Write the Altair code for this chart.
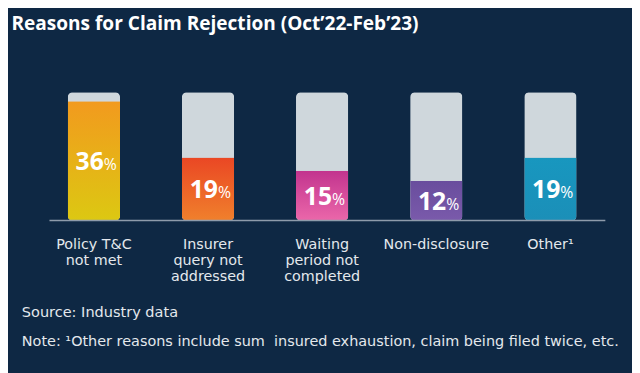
import altair as alt
import pandas as pd

# ---- data ----
categories = ["Policy T&C\nnot met", "Insurer\nquery not\naddressed", "Waiting\nperiod not\ncompleted",
              "Non-disclosure", "Other¹"]
values = [36, 19, 15, 12, 19]
top_colors = ["#f29a1e", "#ea4724", "#c2348e", "#694d9d", "#1897bf"]
bottom_colors = ["#dcc812", "#f0802c", "#eb67aa", "#7a5aab", "#1b8fb8"]
TRACK_MAX = 38.7

title_text = ": Reasons for Claim Rejection (Oct\u201922-Feb\u201923)"
source_text = "Source: Industry data"
note_text = "Note: \u00b9Other reasons include sum\u00a0 insured exhaustion, claim being filed twice, etc."

BG = "#0e2844"
TRACK = "#cfd7dc"
TXT = "#e4e8ed"
FONT = "Open Sans"
FONT2 = "DejaVu Sans"

df = pd.DataFrame({"category": categories, "value": values,
                   "track": [TRACK_MAX] * len(categories),
                   "label": [str(v) for v in values]})

xs = alt.Scale(domain=categories, range=[29.2, 607.2], paddingInner=0, paddingOuter=0)
ys = alt.Scale(domain=[0, TRACK_MAX], range=[213, 83], nice=False, zero=True)
X = alt.X("category:N", sort=categories, scale=xs, axis=None)

base = alt.Chart(df)

track = base.mark_bar(color=TRACK, cornerRadius=5, width=53).encode(
    x=X, y=alt.Y("track:Q", scale=ys, axis=None))

fills = []
for cat, tc, bc in zip(categories, top_colors, bottom_colors):
    grad = alt.Gradient(gradient="linear",
                        stops=[alt.GradientStop(color=tc, offset=0),
                               alt.GradientStop(color=bc, offset=1)],
                        x1=0, x2=0, y1=0, y2=1)
    fills.append(
        base.transform_filter(alt.datum.category == cat).mark_bar(
            color=grad, width=53, cornerRadiusBottomLeft=5, cornerRadiusBottomRight=5
        ).encode(x=X, y=alt.Y("value:Q", scale=ys, axis=None))
    )

rule = alt.Chart(pd.DataFrame({"z": [0]})).mark_rule(color="#8e9bab", strokeWidth=1.5).encode(
    x=alt.value(42), x2=alt.value(605), y=alt.Y("z:Q", scale=ys, axis=None))

mid = base.transform_calculate(mid="datum.value / 2")
num = mid.mark_text(font=FONT, fontSize=25, fontWeight="bold", color="white",
                    align="right", baseline="alphabetic", dx=10, dy=9).encode(
    x=X, y=alt.Y("mid:Q", scale=ys, axis=None), text="label:N")
pct = mid.mark_text(font=FONT, fontSize=16, color="white",
                    align="left", baseline="alphabetic", dx=10, dy=9, text="%").encode(
    x=X, y=alt.Y("mid:Q", scale=ys, axis=None))

cat_labels = base.mark_text(font=FONT2, fontSize=14.5, color=TXT, align="center",
                            baseline="alphabetic", lineBreak="\n", lineHeight=16).encode(
    x=X, y=alt.value(242), text="category:N")

def note(txt, x, y, size, font, weight="normal"):
    return alt.Chart(pd.DataFrame({"t": [txt]})).mark_text(
        font=font, fontSize=size, fontWeight=weight, color="white" if weight == "bold" else TXT,
        align="left", baseline="alphabetic").encode(x=alt.value(x), y=alt.value(y), text="t:N")

title = note(title_text, -7, 20, 19.3, FONT, "bold")
src = note(source_text, 14, 311, 14.7, FONT2)
nt = note(note_text, 14, 340, 14.6, FONT2)

chart = alt.layer(track, *fills, rule, num, pct, cat_labels, title, src, nt).properties(
    width=632, height=365, padding=0, autosize=alt.AutoSizeParams(type="none"),
    background=BG
).configure_view(strokeWidth=0)

chart.save("out.html", embed_options={"renderer": "svg", "actions": False})
